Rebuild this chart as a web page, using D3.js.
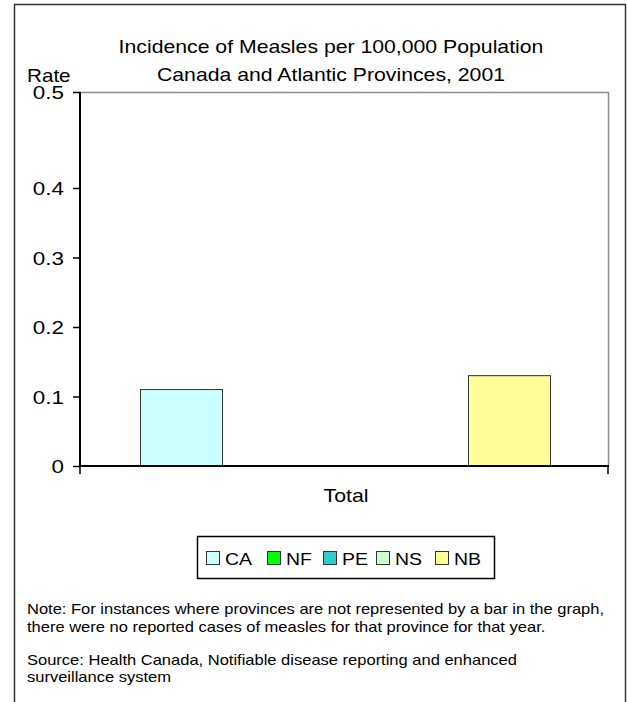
<!DOCTYPE html>
<html>
<head>
<meta charset="utf-8">
<script src="https://cdn.jsdelivr.net/npm/d3@7"></script>
<style>
  body { margin: 0; background: #fff; }
  text { font-family: "Liberation Sans", Arial, sans-serif; fill: #000; }
</style>
</head>
<body>
<div id="chart"></div>
<script>
var categories = ["Total"];
var series = ["CA", "NF", "PE", "NS", "NB"];
var rates = [0.11, 0, 0, 0, 0.13];
var colors = ["#ccffff", "#00ff00", "#33cccc", "#ccffcc", "#ffff99"];
var yTicks = [0, 0.1, 0.2, 0.3, 0.4, 0.5];
var yTickLabels = ["0", "0.1", "0.2", "0.3", "0.4", "0.5"];

var W = 627, H = 702;
var stretch = 1.18; // the source picture's text is drawn a bit wide

var svg = d3.select("#chart").append("svg")
  .attr("width", W)
  .attr("height", H);

function label(x, y, str, size, anchor) {
  return svg.append("text")
    .attr("transform", "translate(" + x + "," + y + ") scale(" + stretch + ",1)")
    .attr("text-anchor", anchor || "start")
    .style("font-size", size + "px")
    .text(str);
}

// outer frame
svg.append("rect")
  .attr("x", 14.5).attr("y", 4.5)
  .attr("width", 611).attr("height", 720)
  .attr("fill", "none")
  .attr("stroke", "#333")
  .attr("stroke-width", 1.5);

label(331, 53, "Incidence of Measles per 100,000 Population", 18, "middle");
label(331, 81, "Canada and Atlantic Provinces, 2001", 18, "middle");
label(27, 82, "Rate", 17.5);

var plotLeft = 80, plotRight = 608, plotTop = 92, plotBottom = 466;

// the top interval is drawn taller than the others in the source picture
var y = d3.scaleLinear()
  .domain([0, 0.4, 0.5])
  .range([plotBottom, 188, plotTop]);

var x0 = d3.scaleBand()
  .domain(categories)
  .range([plotLeft, plotRight]);

var x1 = d3.scaleBand()
  .domain(series)
  .range([0, x0.bandwidth()])
  .paddingOuter(0.72)
  .paddingInner(0);

// plot frame (top and right in grey)
svg.append("path")
  .attr("d", "M" + plotLeft + "," + (plotTop + 0.5) + "H" + (plotRight + 0.5) + "V" + plotBottom)
  .attr("fill", "none")
  .attr("stroke", "#8c8c8c")
  .attr("stroke-width", 1.5);

var rows = [];
categories.forEach(function (c) {
  series.forEach(function (s, i) {
    rows.push({ cat: c, key: s, value: rates[i], color: colors[i] });
  });
});

svg.selectAll("rect.bar")
  .data(rows.filter(function (d) { return d.value > 0; }))
  .enter()
  .append("rect")
  .attr("class", "bar")
  .attr("x", function (d) { return x0(d.cat) + x1(d.key) + 1.5; })
  .attr("y", function (d) { return y(d.value); })
  .attr("width", x1.bandwidth())
  .attr("height", function (d) { return plotBottom - y(d.value); })
  .attr("fill", function (d) { return d.color; })
  .attr("stroke", "#333")
  .attr("stroke-width", 1);

var yAxis = svg.append("g")
  .attr("transform", "translate(" + plotLeft + ",0)")
  .call(d3.axisLeft(y)
    .tickValues(yTicks)
    .tickFormat(function (d, i) { return yTickLabels[i]; })
    .tickSize(7)
    .tickPadding(0));
yAxis.select(".domain").attr("stroke-width", 2).attr("d", "M0," + plotTop + "V" + (plotBottom + 1));
yAxis.selectAll(".tick line").attr("stroke-width", 1.5);
yAxis.selectAll(".tick text")
  .attr("x", 0)
  .attr("transform", "translate(-16,0) scale(" + stretch + ",1)")
  .style("font-size", "19px")
  .attr("dy", "0.35em");

var xAxis = svg.append("g")
  .attr("transform", "translate(0," + plotBottom + ")")
  .call(d3.axisBottom(x0).tickSize(0).tickPadding(23));
xAxis.select(".domain").attr("stroke-width", 2).attr("d", "M" + plotLeft + ",0H" + (plotRight + 1));
xAxis.selectAll(".tick text")
  .attr("transform", "translate(2,0) scale(" + stretch + ",1)")
  .style("font-size", "18px");
// tick marks at category boundaries
xAxis.selectAll("line.edge")
  .data([plotLeft, plotRight])
  .enter()
  .append("line")
  .attr("class", "edge")
  .attr("x1", function (d) { return d; })
  .attr("x2", function (d) { return d; })
  .attr("y1", 0).attr("y2", 8)
  .attr("stroke", "#000")
  .attr("stroke-width", 1.5);

// legend
svg.append("rect")
  .attr("x", 197.5).attr("y", 536.5)
  .attr("width", 297).attr("height", 42)
  .attr("fill", "#fff")
  .attr("stroke", "#000")
  .attr("stroke-width", 1.5);
var swatchX = [206, 267, 323, 376, 435];
series.forEach(function (s, i) {
  svg.append("rect")
    .attr("x", swatchX[i] + 0.5).attr("y", 551.5)
    .attr("width", 13).attr("height", 13)
    .attr("fill", colors[i])
    .attr("stroke", "#333")
    .attr("stroke-width", 1);
  label(swatchX[i] + 19, 565, s, 16.5);
});

var notes = [
  ["Note: For instances where provinces are not represented by a bar in the graph,", 614],
  ["there were no reported cases of measles for that province for that year.", 632],
  ["Source:  Health Canada, Notifiable disease reporting and enhanced", 665],
  ["surveillance system", 682]
];
notes.forEach(function (n) {
  label(27, n[1], n[0], 14);
});
</script>
</body>
</html>
